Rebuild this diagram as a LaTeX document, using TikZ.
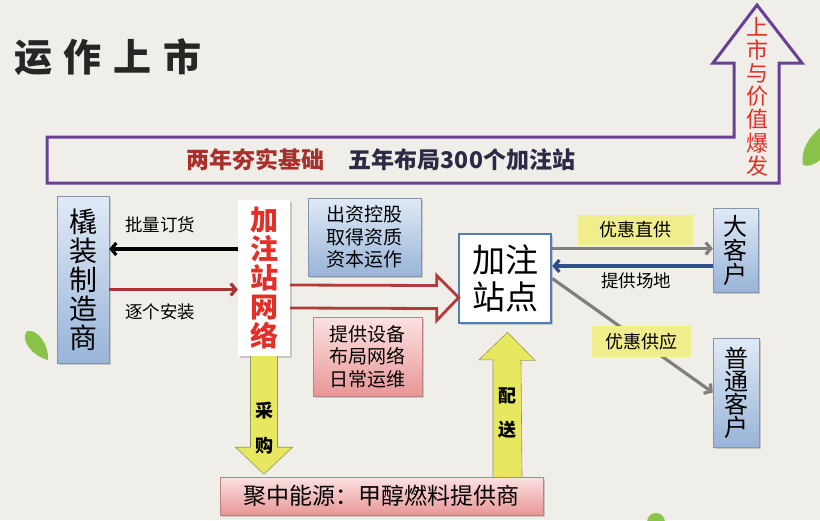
\documentclass[tikz,border=0pt]{standalone}
\usepackage{fontspec}
\setmainfont{Noto Sans CJK SC}
\usepackage{tikz}
\usetikzlibrary{arrows.meta, calc, shadows}
\definecolor{PaperBg}{RGB}{239,238,233}
\definecolor{LeafGreen}{RGB}{139,195,74}
\definecolor{RisePurple}{RGB}{106,64,150}
\definecolor{HotRed}{RGB}{226,48,40}
\definecolor{DeepRed}{RGB}{168,48,44}
\definecolor{InkNavy}{RGB}{43,43,69}
\definecolor{BlueTop}{RGB}{224,234,246}
\definecolor{BlueBot}{RGB}{152,180,216}
\definecolor{BlueEdge}{RGB}{130,150,180}
\definecolor{PinkTop}{RGB}{252,226,226}
\definecolor{PinkBot}{RGB}{232,150,150}
\definecolor{PinkEdge}{RGB}{190,130,130}
\definecolor{StationEdge}{RGB}{79,125,184}
\definecolor{TagYellow}{RGB}{240,238,140}
\definecolor{ArrowYellow}{RGB}{232,232,96}
\definecolor{ArrowEdge}{RGB}{150,150,90}
\definecolor{FlowRed}{RGB}{168,52,52}
\definecolor{HollowRed}{RGB}{178,58,58}
\definecolor{FlowGray}{RGB}{127,127,127}
\definecolor{FlowBlue}{RGB}{47,78,140}

\begin{document}
\begin{tikzpicture}[x=1pt, y=-1pt,
          box/.style={rectangle, inner sep=0pt, align=center,
                      drop shadow={opacity=0.35, shadow xshift=2pt, shadow yshift=-2pt}},
          bluebox/.style={box, draw=BlueEdge, top color=BlueTop, bottom color=BlueBot},
          pinkbox/.style={box, draw=PinkEdge, top color=PinkTop, bottom color=PinkBot},
          tag/.style={rectangle, inner sep=0pt, fill=TagYellow,
                      font=\fontsize{18}{20}\selectfont},
          lbl/.style={inner sep=0pt, font=\fontsize{17.5}{20}\selectfont},
          arr/.style={-{Straight Barb[length=5pt, width=12pt]}, line width=3.2pt},
          fat/.style={fill=ArrowYellow, draw=ArrowEdge, line width=0.6pt},
          leaf/.style={fill=LeafGreen, draw=none}
        ]
        \useasboundingbox (0,0) rectangle (820,520);
        \fill[PaperBg] (0,0) rectangle (820,520);

        % leaves
        \fill[leaf] (48,360) .. controls (32,356) and (20,340) .. (27,331)
              .. controls (38,329) and (49,345) .. (48,360);
        \fill[leaf] (803,165) .. controls (800,150) and (810,136) .. (820,128)
              -- (820,160) .. controls (814,165) and (808,167) .. (803,165);
        \fill[leaf] (656,522) circle (9);

        % title
        \node[inner sep=0pt, text=black!85, font=\fontsize{38}{40}\selectfont\bfseries]
              (title) at (108,57) {运\hspace{12pt}作\hspace{12pt}上\hspace{12pt}市};

        % rising arrow
        \draw[RisePurple, line width=3pt, line join=miter]
              (47,137) -- (734,137) -- (734,63) -- (713,63) -- (757,5)
              -- (802,63) -- (779,63) -- (779,183) -- (47,183) -- cycle;
        \node[inner sep=0pt, text=HotRed, align=center,
              font=\fontsize{22}{23.2}\selectfont] (rise) at (757,96.5)
              {上\\市\\与\\价\\值\\爆\\发};
        \node[inner sep=0pt, text=DeepRed, font=\fontsize{23}{25}\selectfont\bfseries]
              (base) at (255,160) {两年夯实基础};
        \node[inner sep=0pt, text=InkNavy, font=\fontsize{23}{25}\selectfont\bfseries]
              (plan) at (462,160) {五年布局300个加注站};

        % boxes
        \node[bluebox, minimum width=52, minimum height=167,
              font=\fontsize{28}{29}\selectfont] (zz) at (83,279.5)
              {橇\\装\\制\\造\\商};
        \node[box, fill=white, minimum width=52, minimum height=156, text=HotRed,
              font=\fontsize{28}{29}\selectfont\bfseries] (wl) at (264,278)
              {加\\注\\站\\网\\络};
        \node[bluebox, minimum width=113, minimum height=78,
              font=\fontsize{19}{22.5}\selectfont] (cz) at (364.5,237)
              {出资控股\\取得资质\\资本运作};
        \node[pinkbox, minimum width=109, minimum height=79,
              font=\fontsize{19}{22.5}\selectfont] (tg) at (367.5,356.5)
              {提供设备\\布局网络\\日常运维};
        \node[box, fill=white, draw=StationEdge, line width=2.6pt,
              minimum width=92, minimum height=89,
              font=\fontsize{33}{37}\selectfont] (zd) at (505,278.5) {加注\\站点};
        \node[bluebox, minimum width=45, minimum height=84,
              font=\fontsize{24}{24}\selectfont] (dk) at (735.5,250)
              {大\\客\\户};
        \node[bluebox, minimum width=46, minimum height=109,
              font=\fontsize{24}{23}\selectfont] (pt) at (736,392.5)
              {普\\通\\客\\户};
        \node[pinkbox, minimum width=323, minimum height=38,
              font=\fontsize{23}{25}\selectfont] (jz) at (381.5,496)
              {聚中能源：甲醇燃料提供商};

        % supply arrows
        \draw[fat] ($(wl.south)+(-13.5,0)$) -- ++(0,91) -- ++(-15,0)
              -- ($(wl.south)+(0,118)$) -- ++(28.5,-27) -- ++(-15,0)
              -- ($(wl.south)+(13.5,0)$);
        \node[inner sep=0pt, align=center, font=\fontsize{18}{35}\selectfont\bfseries]
              (cg) at ($(wl.south)+(0,71.5)$) {采\\购};
        \draw[fat] ($(jz.north -| zd.south)+(-12,0)$) -- ++(0,-117) -- ++(-14,0)
              -- ($(zd.south)+(2.5,8)$) -- ++(27.5,28) -- ++(-14,0)
              -- ($(jz.north -| zd.south)+(17,0)$);
        \node[inner sep=0pt, align=center, font=\fontsize{18}{34}\selectfont\bfseries]
              (ps) at ($(zd.south)+(2.5,89)$) {配\\送};

        % manufacturer flow
        \draw[arr, black] ([yshift=29pt]wl.west) -- ([yshift=29pt]wl.west -| zz.east);
        \node[lbl] (ph) at (160,225) {批量订货};
        \draw[arr, FlowRed] ([yshift=-10pt]zz.east) -- ([yshift=-10pt]zz.east -| wl.west);
        \node[lbl] (az) at (160,312) {逐个安装};

        % network to station
        \draw[HollowRed, line width=2.8pt, line join=miter]
              ($(wl.east)+(0,7)$) -- ($(zd.west)+(-21,7)$) -- ++(0,-10)
              -- ($(zd.west)+(1,19)$) -- ($(zd.west)+(-21,42)$) -- ++(0,-12)
              -- ($(wl.east)+(0,30)$);

        % customers
        \draw[arr, FlowGray] ([yshift=30pt]zd.east) -- ([yshift=30pt]zd.east -| dk.west);
        \node[tag, minimum width=115, minimum height=30] (zg) at (635.5,230) {优惠直供};
        \draw[arr, FlowBlue] ([yshift=-16pt]dk.west) -- ([yshift=-16pt]dk.west -| zd.east);
        \node[lbl] (cd) at (636,281) {提供场地};
        \draw[arr, FlowGray] (zd.east) -- (pt.west);
        \node[tag, minimum width=99, minimum height=31] (gy) at (641.5,341.5) {优惠供应};
      \end{tikzpicture}
\end{document}
